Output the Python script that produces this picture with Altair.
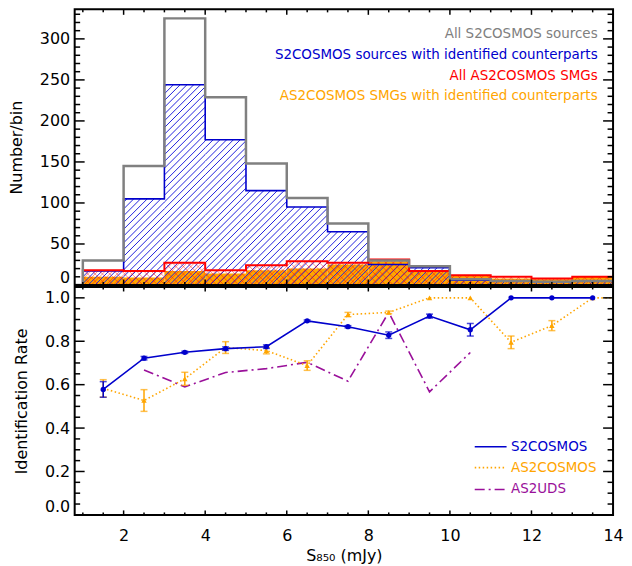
import math
import altair as alt
import numpy as np
import pandas as pd

# ---------------- data ----------------
bin_left = [1, 2, 3, 4, 5, 6, 7, 8, 9, 10, 11, 12, 13]
n_s2_all = [30, 145, 325, 229, 148, 106, 75, 30, 23, 7, 5, 4, 5]
n_s2_id = [17, 105, 244, 177, 115, 95, 65, 25, 21, 6, 5, 4, 5]
n_as2_all = [18, 17, 27, 18, 24, 29, 27, 31, 17, 12, 10, 8, 10]
n_as2_id = [10, 9, 17, 14, 18, 20, 25, 29, 17, 12, 8, 7, 10]

s850_mid = [1.5, 2.5, 3.5, 4.5, 5.5, 6.5, 7.5, 8.5, 9.5, 10.5, 11.5, 12.5, 13.5]
rate_s2 = [0.578, 0.722, 0.749, 0.766, 0.775, 0.894, 0.867, 0.828, 0.916, 0.853, 1.0, 1.0, 1.0]
err_s2 = [0.036, 0.008, 0.005, 0.008, 0.008, 0.004, 0.005, 0.015, 0.009, 0.029, 0, 0, 0]
as2_mid = [1.5, 2.5, 3.5, 4.5, 5.5, 6.5, 7.5, 8.5, 9.5, 10.5, 11.5, 12.5, 13.5, 14.5]
rate_as2 = [0.583, 0.527, 0.627, 0.771, 0.757, 0.688, 0.923, 0.933, 1.0, 1.0, 0.795, 0.872, 1.0, 1.0]
err_as2 = [0.04, 0.05, 0.03, 0.027, 0.015, 0.022, 0.01, 0.006, 0, 0, 0.029, 0.023, 0, 0]
uds_mid = [2.5, 3.5, 4.5, 5.5, 6.5, 7.5, 8.5, 9.5, 10.5]
rate_uds = [0.668, 0.59, 0.656, 0.674, 0.703, 0.616, 0.933, 0.567, 0.748]

top_legend = ["All S2COSMOS sources", "S2COSMOS sources with identified counterparts",
              "All AS2COSMOS SMGs", "AS2COSMOS SMGs with identified counterparts"]
bottom_legend = ["S2COSMOS", "AS2COSMOS", "AS2UDS"]

# ---------------- style ----------------
W, H1, H2 = 541, 277, 229
XD = [0.8, 14.0]
Y1D = [0, 336]
Y2D = [0, 1.05]
FONT = "DejaVu Sans"
BLUE = "#0000CC"
HBLUE = "#2222dd"
ORANGE = "#FFA500"
RED = "#FF0000"
GRAY = "#808080"
PURPLE = "#9A109A"

xs = alt.Scale(domain=XD, nice=False, zero=False)
y1s = alt.Scale(domain=Y1D, nice=False, zero=False)
y2s = alt.Scale(domain=Y2D, nice=False, zero=False)

ax_x_top = None
ax_y_top = alt.Axis(values=[0, 50, 100, 150, 200, 250, 300], ticks=False, tickSize=0, domain=False,
                    grid=False, labelFlush=True, labelPadding=5, title="Number/bin", titlePadding=15)
ax_x_bot = alt.Axis(values=[2, 4, 6, 8, 10, 12, 14], ticks=False, tickSize=0, domain=False, grid=False,
                    labelFlush=False, labelPadding=13, title="S\u2088\u2085\u2080 (mJy)", titlePadding=4)
ax_y_bot = alt.Axis(values=[0, 0.2, 0.4, 0.6, 0.8, 1.0], format=".1f", ticks=False, tickSize=0,
                    domain=False, grid=False, labelFlush=True, labelPadding=5,
                    title="Identification Rate", titlePadding=15)


def X(f, panel):
    return alt.X(f"{f}:Q", scale=xs, axis=ax_x_top if panel == 1 else ax_x_bot)


def Y(f, panel):
    return alt.Y(f"{f}:Q", scale=y1s if panel == 1 else y2s, axis=ax_y_top if panel == 1 else ax_y_bot)


# ---------------- hatching (computed in pixel space, mapped back to data) ----------------
def hatch(heights, d, direction, phase=0.0):
    sx = W / (XD[1] - XD[0])
    sy = H1 / (Y1D[1] - Y1D[0])
    rows = []
    for a, h in zip(bin_left, heights):
        X0 = (a - XD[0]) * sx
        X1 = (a + 1 - XD[0]) * sx
        Hp = h * sy
        if direction == "/":
            kmin = math.ceil((X0 - Hp - phase) / d)
            kmax = math.floor((X1 - phase) / d)
            for k in range(kmin, kmax + 1):
                c = k * d + phase
                ps, pe = max(X0, c), min(X1, c + Hp)
                if pe - ps > 0.3:
                    rows.append((ps, ps - c, pe, pe - c))
        else:
            kmin = math.ceil((X0 - phase) / d)
            kmax = math.floor((X1 + Hp - phase) / d)
            for k in range(kmin, kmax + 1):
                c = k * d + phase
                ps, pe = max(X0, c - Hp), min(X1, c)
                if pe - ps > 0.3:
                    rows.append((ps, c - ps, pe, c - pe))
    df = pd.DataFrame(rows, columns=["px", "py", "px2", "py2"])
    df["x"] = XD[0] + df["px"] / sx
    df["x2"] = XD[0] + df["px2"] / sx
    df["y"] = df["py"] / sy
    df["y2"] = df["py2"] / sy
    return df


def steps(counts):
    return pd.DataFrame({"x": [0.5] + bin_left + [14], "y": [0] + counts + [counts[-1]]})


def tick_layers(panel, H, xmaj, xmin, ymaj, ymin, lx, ly):
    layers = []
    for vals, L in ((xmaj, lx), (xmin, lx * 0.55)):
        df = pd.DataFrame({"v": vals})
        for y0, y1 in ((H, H - L), (0, L)):
            layers.append(alt.Chart(df).mark_rule(color="black", strokeWidth=1.5).encode(
                x=X("v", panel), y=alt.value(y0), y2=alt.value(y1)))
    for vals, L in ((ymaj, ly), (ymin, ly * 0.55)):
        df = pd.DataFrame({"v": vals})
        for x0, x1 in ((0, L), (W, W - L)):
            layers.append(alt.Chart(df).mark_rule(color="black", strokeWidth=1.5).encode(
                y=Y("v", panel), x=alt.value(x0), x2=alt.value(x1)))
    return layers


xmaj = [2, 4, 6, 8, 10, 12]
xmin = [v for v in np.arange(1.0, 14.0, 0.5) if v not in xmaj]

# ---------------- top panel ----------------
bars = pd.DataFrame({"x": bin_left, "x2": [b + 1 for b in bin_left], "y0": [0] * 13,
                     "s2_all": n_s2_all, "s2_id": n_s2_id, "as2_all": n_as2_all, "as2_id": n_as2_id})

orange_fill = alt.Chart(bars).mark_rect(color=ORANGE).encode(
    x=X("x", 1), x2="x2:Q", y=Y("y0", 1), y2="as2_id:Q")

hb = hatch(n_s2_id, 6.8, "/")
blue_hatch = alt.Chart(hb).mark_rule(color=HBLUE, strokeWidth=1.0).encode(
    x=X("x", 1), x2="x2:Q", y=Y("y", 1), y2="y2:Q")
hr1 = hatch(n_as2_all, 7.4, "/", 2.0)
hr2 = hatch(n_as2_all, 7.4, "\\", 2.0)
red_hatch = alt.Chart(pd.concat([hr1, hr2])).mark_rule(color=RED, strokeWidth=0.7, opacity=0.65).encode(
    x=X("x", 1), x2="x2:Q", y=Y("y", 1), y2="y2:Q")


def outline(counts, color, sw):
    return alt.Chart(steps(counts)).mark_line(interpolate="step-after", color=color, strokeWidth=sw,
                                              clip=True).encode(x=X("x", 1), y=Y("y", 1))


top_frame = alt.Chart(pd.DataFrame({"a": [0]})).mark_rect(fill=None, stroke="black", strokeWidth=2).encode(
    x=alt.value(0), x2=alt.value(W), y=alt.value(0), y2=alt.value(H1))

top_colors = [GRAY, BLUE, RED, ORANGE]
top_ys = [25, 46, 66.7, 87.4]
top_texts = [alt.Chart(pd.DataFrame({"t": [t]})).mark_text(
    align="right", baseline="middle", font=FONT, fontSize=13.5, color=c).encode(
    text="t:N", x=alt.value(525.5), y=alt.value(yy)) for t, c, yy in zip(top_legend, top_colors, top_ys)]

top_ticks = tick_layers(1, H1, xmaj, xmin, [50, 100, 150, 200, 250, 300],
                        [v for v in range(10, 336, 10) if v % 50 != 0], 5.5, 10)

top = alt.layer(orange_fill, blue_hatch, red_hatch,
                outline(n_s2_id, BLUE, 1.6), outline(n_as2_all, RED, 2.0), outline(n_s2_all, GRAY, 2.5),
                *top_texts, *top_ticks, top_frame).properties(width=W, height=H1)

# ---------------- bottom panel ----------------
d_s2 = pd.DataFrame({"x": s850_mid, "r": rate_s2, "lo": np.array(rate_s2) - np.array(err_s2),
                     "hi": np.array(rate_s2) + np.array(err_s2), "e": err_s2})
d_as2 = pd.DataFrame({"x": as2_mid, "r": rate_as2, "lo": np.array(rate_as2) - np.array(err_as2),
                      "hi": np.array(rate_as2) + np.array(err_as2), "e": err_as2})
d_uds = pd.DataFrame({"x": uds_mid, "r": rate_uds})


def errbars(df, color):
    e = df[df["e"] > 0]
    rule = alt.Chart(e).mark_rule(color=color, strokeWidth=1.5).encode(x=X("x", 2), y=Y("lo", 2), y2="hi:Q")
    lo = alt.Chart(e).mark_tick(color=color, orient="horizontal", size=7, thickness=1.5).encode(
        x=X("x", 2), y=Y("lo", 2))
    hi = alt.Chart(e).mark_tick(color=color, orient="horizontal", size=7, thickness=1.5).encode(
        x=X("x", 2), y=Y("hi", 2))
    return [rule, lo, hi]


s2_line = alt.Chart(d_s2).mark_line(color=BLUE, strokeWidth=1.6).encode(x=X("x", 2), y=Y("r", 2))
s2_pts = alt.Chart(d_s2).mark_circle(color=BLUE, size=28, opacity=1).encode(x=X("x", 2), y=Y("r", 2))
as2_line = alt.Chart(d_as2).mark_line(color=ORANGE, strokeWidth=1.6, strokeDash=[1.5, 2.5], clip=True).encode(
    x=X("x", 2), y=Y("r", 2))
as2_pts = alt.Chart(d_as2[d_as2["x"] < 14]).mark_point(shape="triangle-up", filled=True, color=ORANGE,
                                                       size=30, opacity=1).encode(x=X("x", 2), y=Y("r", 2))
uds_line = alt.Chart(d_uds).mark_line(color=PURPLE, strokeWidth=1.6, strokeDash=[10, 4, 2, 4]).encode(
    x=X("x", 2), y=Y("r", 2))

leg_styles = [(BLUE, [1, 0]), (ORANGE, [1.5, 2.5]), (PURPLE, [10, 4, 2, 4])]
leg_ys = [160.5, 181.5, 203.5]
leg_layers = []
for name, (c, dash), yy in zip(bottom_legend, leg_styles, leg_ys):
    leg_layers.append(alt.Chart(pd.DataFrame({"t": [name]})).mark_rule(color=c, strokeWidth=1.6,
                                                                       strokeDash=dash).encode(
        x=alt.value(402), x2=alt.value(434), y=alt.value(yy)))
    leg_layers.append(alt.Chart(pd.DataFrame({"t": [name]})).mark_text(
        align="left", baseline="middle", font=FONT, fontSize=13.5, color=c).encode(
        text="t:N", x=alt.value(438.5), y=alt.value(yy)))

bot_frame = alt.Chart(pd.DataFrame({"a": [0]})).mark_rect(fill=None, stroke="black", strokeWidth=2).encode(
    x=alt.value(0), x2=alt.value(W), y=alt.value(0), y2=alt.value(H2))

bot_ticks = tick_layers(2, H2, xmaj, xmin, [0.2, 0.4, 0.6, 0.8, 1.0],
                        [v for v in np.arange(0.05, 1.05, 0.05) if abs(v * 5 - round(v * 5)) > 1e-6], 4.5, 10)

bottom = alt.layer(uds_line, as2_line, *errbars(d_as2, ORANGE), as2_pts,
                   s2_line, *errbars(d_s2, BLUE), s2_pts,
                   *leg_layers, *bot_ticks, bot_frame).properties(width=W, height=H2)

chart = alt.vconcat(top, bottom, spacing=0).configure(
    padding={"left": 0, "top": -1, "right": 0, "bottom": 0}
).configure_view(stroke=None).configure_axis(
    labelFont=FONT, labelFontSize=16, labelColor="black",
    titleFont=FONT, titleFontSize=16, titleFontWeight="normal", titleColor="black"
)

chart.save("out.html", embed_options={"renderer": "svg", "actions": False})
